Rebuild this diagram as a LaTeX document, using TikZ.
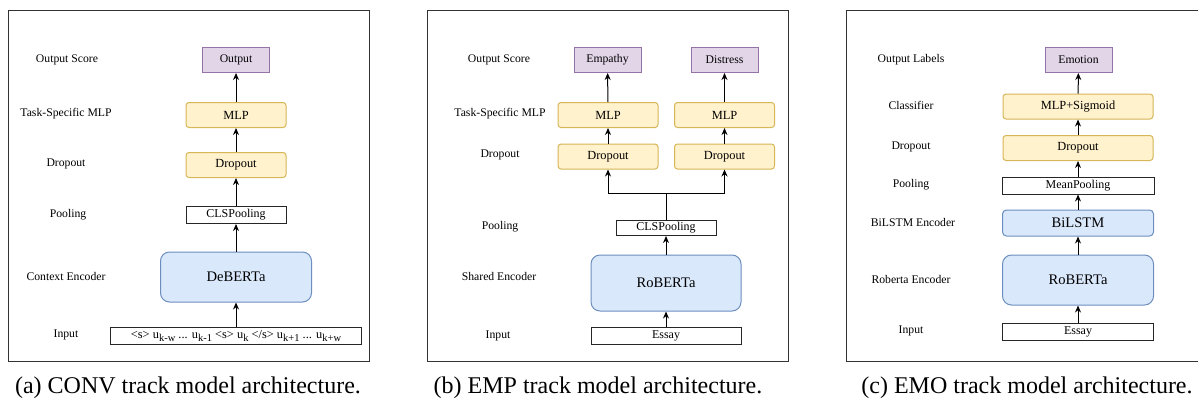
\documentclass[tikz,border=0pt]{standalone}
\usepackage{fontspec}
\setmainfont{Liberation Serif}
\usetikzlibrary{positioning, arrows.meta}
\definecolor{purplefill}{HTML}{E1D5E7}
\definecolor{purpleline}{HTML}{9673A6}
\definecolor{yellowfill}{HTML}{FFF2CC}
\definecolor{yellowline}{HTML}{D6B656}
\definecolor{bluefill}{HTML}{DAE8FC}
\definecolor{blueline}{HTML}{6C8EBF}
\newcommand{\tokidx}[1]{\raisebox{-3pt}{\fontsize{10.5}{12}\selectfont #1}}

\begin{document}
\begin{tikzpicture}[x=1pt, y=-1pt,
        outbox/.style={draw=purpleline, fill=purplefill, line width=1pt, inner sep=0pt,
            minimum height=25pt, font=\fontsize{11.7}{13}\selectfont},
        mlpbox/.style={draw=yellowline, fill=yellowfill, line width=1pt, rounded corners=3pt,
            inner sep=0pt, minimum width=100pt, minimum height=25pt, font=\fontsize{12.4}{14}\selectfont},
        plainbox/.style={draw=black!85, fill=white, line width=1pt, inner sep=0pt,
            minimum height=17pt, font=\fontsize{12}{14}\selectfont},
        encbox/.style={draw=blueline, fill=bluefill, line width=1pt, rounded corners=9pt,
            inner sep=0pt, minimum width=151pt, minimum height=50pt, font=\fontsize{14.6}{16}\selectfont},
        lbl/.style={font=\fontsize{11.7}{13}\selectfont, inner sep=0pt},
        captext/.style={font=\fontsize{24}{28}\selectfont, inner sep=0pt},
        panelframe/.style={draw=black!80, line width=1pt},
        arr/.style={-{Stealth[length=7pt, width=6pt]}, line width=1pt}]

        \useasboundingbox (0,0) rectangle (1198,400);

        % Frames
        \draw[panelframe] (8,10) rectangle (369,361);
        \draw[panelframe] (427,10) rectangle (788,361);
        \draw[panelframe] (1198,10) -- (846,10) -- (846,361) -- (1198,361);

        % (a) CONV
        \node[lbl] (la1) at (67,60) {Output Score};
        \node[lbl] (la2) at (66,114) {Task-Specific MLP};
        \node[lbl] (la3) at (66,164) {Dropout};
        \node[lbl] (la4) at (68,215) {Pooling};
        \node[lbl] (la5) at (66,276) {Context Encoder};
        \node[lbl] (la6) at (66,335) {Input};

        \node[outbox, minimum width=67pt] (aout) at (236,60) {Output};
        \node[mlpbox] (amlp) at (236,115) {MLP};
        \node[mlpbox] (adrop) at (236,165) {Dropout};
        \node[plainbox, minimum width=100pt] (apool) at (236,215) {CLSPooling};
        \node[encbox] (aenc) at (236,277) {DeBERTa};
        \node[plainbox, minimum width=251pt, font=\fontsize{12.4}{14}\selectfont] (ain) at (236,336)
            {<s> u\tokidx{k-w} ... u\tokidx{k-1} <s> u\tokidx{k} </s> u\tokidx{k+1} ... u\tokidx{k+w}};

        \draw[arr] (ain) -- (aenc);
        \draw[arr] (aenc) -- (apool);
        \draw[arr] (apool) -- (adrop);
        \draw[arr] (adrop) -- (amlp);
        \draw[arr] (amlp) -- (aout);

        \node[captext] (capa) at (188,388) {(a) CONV track model architecture.};

        % (b) EMP
        \node[lbl] (lb1) at (499,60) {Output Score};
        \node[lbl] (lb2) at (500,114) {Task-Specific MLP};
        \node[lbl] (lb3) at (500,155) {Dropout};
        \node[lbl] (lb4) at (500,227) {Pooling};
        \node[lbl] (lb5) at (499,276) {Shared Encoder};
        \node[lbl] (lb6) at (498,336) {Input};

        \node[outbox, minimum width=67pt] (bout1) at (607.5,60) {Empathy};
        \node[outbox, minimum width=67pt] (bout2) at (724.5,60) {Distress};
        \node[mlpbox] (bmlp1) at (608,115) {MLP};
        \node[mlpbox] (bmlp2) at (724.5,115) {MLP};
        \node[mlpbox] (bdrop1) at (608,156.5) {Dropout};
        \node[mlpbox] (bdrop2) at (724.5,156.5) {Dropout};
        \coordinate (bsplit) at (666,193);
        \node[plainbox, minimum width=100pt, minimum height=15pt] (bpool) at (666,228) {CLSPooling};
        \node[encbox, minimum width=150pt, minimum height=56pt] (benc) at (666,283) {RoBERTa};
        \node[plainbox, minimum width=150pt] (bin) at (666,336) {Essay};

        \draw[arr] (bin) -- (benc);
        \draw[arr] (benc) -- (bpool);
        \draw[line width=1pt] (bpool) -- (bsplit);
        \draw[arr] (bsplit) -| (bdrop1);
        \draw[arr] (bsplit) -| (bdrop2);
        \draw[arr] (bdrop1) -- (bmlp1);
        \draw[arr] (bdrop2) -- (bmlp2);
        \draw[arr] (bmlp1) -- (bout1);
        \draw[arr] (bmlp2) -- (bout2);

        \node[captext] (capb) at (598,388) {(b) EMP track model architecture.};

        % (c) EMO
        \node[lbl] (lc1) at (911,60) {Output Labels};
        \node[lbl] (lc2) at (911,105) {Classifier};
        \node[lbl] (lc3) at (911,147) {Dropout};
        \node[lbl] (lc4) at (911,185) {Pooling};
        \node[lbl] (lc5) at (913,222) {BiLSTM Encoder};
        \node[lbl] (lc6) at (911,279) {Roberta Encoder};
        \node[lbl] (lc7) at (911,331) {Input};

        \node[outbox, minimum width=67pt] (cout) at (1078.5,60) {Emotion};
        \node[mlpbox, minimum width=150pt] (cmlp) at (1078,106.5) {MLP+Sigmoid};
        \node[mlpbox, minimum width=150pt] (cdrop) at (1078,148) {Dropout};
        \node[plainbox, minimum width=152pt] (cpool) at (1078,185.5) {MeanPooling};
        \node[encbox, minimum width=151pt, minimum height=26pt, rounded corners=4pt] (clstm) at (1078,223) {BiLSTM};
        \node[encbox, minimum width=151pt] (cenc) at (1078,280) {RoBERTa};
        \node[plainbox, minimum width=151pt] (cin) at (1078,331.5) {Essay};

        \draw[arr] (cin) -- (cenc);
        \draw[arr] (cenc) -- (clstm);
        \draw[arr] (clstm) -- (cpool);
        \draw[arr] (cpool) -- (cdrop);
        \draw[arr] (cdrop) -- (cmlp);
        \draw[arr] (cmlp) -- (cout);

        \node[captext] (capc) at (1027,388) {(c) EMO track model architecture.};

\end{tikzpicture}
\end{document}
